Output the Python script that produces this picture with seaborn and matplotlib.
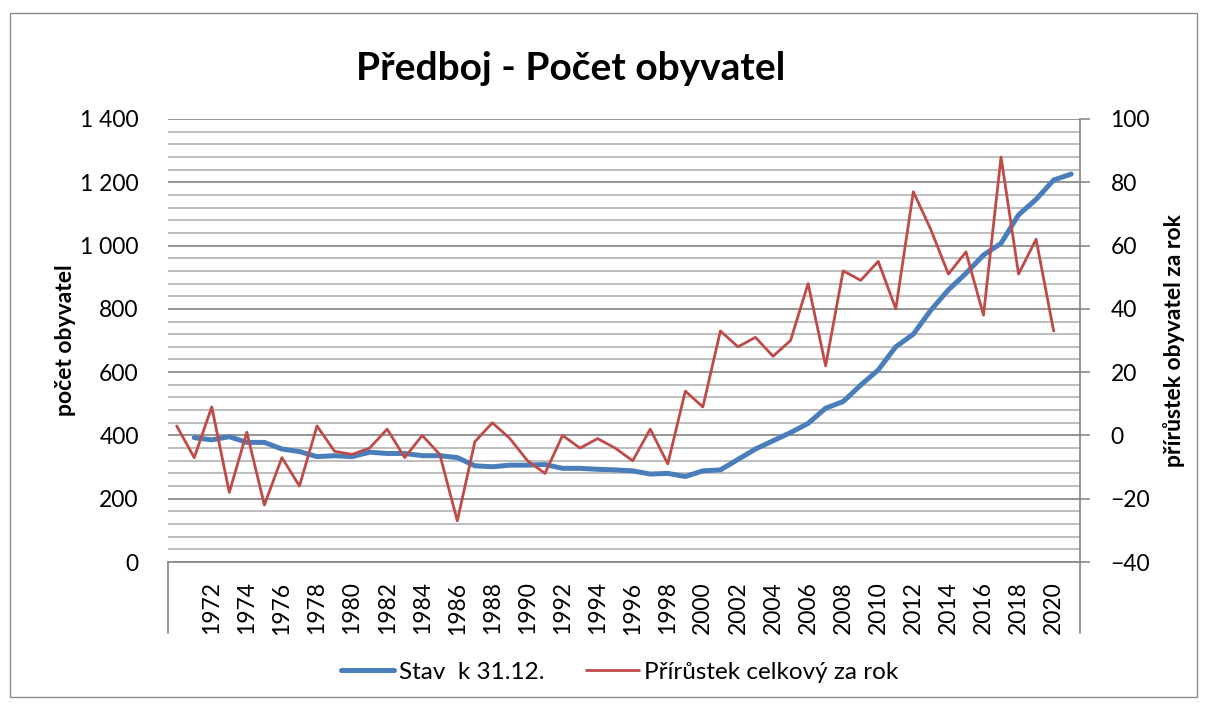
import numpy as np
import pandas as pd
import matplotlib
matplotlib.use("Agg")
import matplotlib.pyplot as plt
import seaborn as sns
from matplotlib.patches import Rectangle
from matplotlib.lines import Line2D

# data
stav_years = list(range(1971, 2022))
stav = [393, 386, 396, 378, 378, 357, 349, 333, 336, 333,
        347, 343, 343, 336, 336, 330, 304, 301, 306, 306,
        308, 296, 296, 293, 291, 288, 278, 280, 270, 288,
        291, 324, 357, 383, 409, 438, 486, 507, 559, 607,
        680, 720, 796, 860, 912, 970, 1007, 1097, 1146, 1207,
        1226]

prir_years = list(range(1970, 2021))
prir = [3, -7, 9, -18, 1, -22, -7, -16, 3, -5,
        -6, -4, 2, -7, 0, -6, -27, -2, 4, -1,
        -8, -12, 0, -4, -1, -4, -8, 2, -9, 14,
        9, 33, 28, 31, 25, 30, 48, 22, 52, 49,
        55, 40, 77, 65, 51, 58, 38, 88, 51, 62,
        33]

year_ticks = list(range(1972, 2021, 2))
left_ticks = [0, 200, 400, 600, 800, 1000, 1200, 1400]
left_labels = ['0', '200', '400', '600', '800', '1 000', '1 200', '1 400']
right_ticks = [-40, -20, 0, 20, 40, 60, 80, 100]

df_stav = pd.DataFrame({'rok': stav_years, 'hodnota': stav})
df_prir = pd.DataFrame({'rok': prir_years, 'hodnota': prir})

sns.set_style('white')
plt.rcParams['font.family'] = ['Lato', 'DejaVu Sans']
plt.rcParams['text.color'] = 'black'
plt.rcParams['axes.labelcolor'] = 'black'
plt.rcParams['xtick.labelcolor'] = 'black'
plt.rcParams['ytick.labelcolor'] = 'black'

blue = '#4A7EBB'
red = '#BE4B48'
grid_major = '#8C8C8C'
grid_minor = '#B9B9B9'

fig = plt.figure(figsize=(12.08, 7.04), dpi=100)
ax = fig.add_axes([0.139, 0.2017, 0.755, 0.6293])
ax2 = ax.twinx()

# rámeček kolem celého grafu
fig.patches.append(Rectangle((10 / 1208, 7 / 704), 1187 / 1208, 684 / 704,
                             transform=fig.transFigure, fill=False,
                             edgecolor='#8A8A8A', linewidth=1.0))

sns.lineplot(data=df_stav, x='rok', y='hodnota', ax=ax, color=blue,
             linewidth=3.6, legend=False, zorder=3)
sns.lineplot(data=df_prir, x='rok', y='hodnota', ax=ax2, color=red,
             linewidth=2.0, legend=False, zorder=3)

ax.set_xlim(1969.5, 2021.5)
ax.set_ylim(0, 1400)
ax2.set_ylim(-40, 100)

# mřížka: hlavní po 200, vedlejší po 40
ax.set_yticks(left_ticks, left_labels)
ax.set_yticks(np.arange(0, 1401, 40), minor=True)
ax.grid(axis='y', which='minor', color=grid_minor, linewidth=1.3)
ax.grid(axis='y', which='major', color=grid_major, linewidth=1.3)
ax.set_axisbelow(True)
ax.tick_params(axis='y', which='both', length=0, pad=21, labelsize=16.5)

ax.set_xticks(year_ticks, [str(y) for y in year_ticks], rotation=90)
ax.tick_params(axis='x', length=0, pad=14, labelsize=16.5)

ax2.set_yticks(right_ticks)
ax2.tick_params(axis='y', length=7, width=1.2, color=grid_major, pad=15, labelsize=16.5)

for a in (ax, ax2):
    for s in ('top', 'left', 'right', 'bottom'):
        a.spines[s].set_visible(False)
ax2.spines['right'].set_visible(True)
ax2.spines['right'].set_color(grid_major)
ax2.spines['right'].set_linewidth(1.3)
ax.spines['bottom'].set_visible(True)
ax.spines['bottom'].set_color(grid_major)
ax.spines['bottom'].set_linewidth(1.3)

# svislé čáry rámečku kategorií pod osou
box_h = (633 - 562) / 443
for xa in (0, 1):
    ax.plot([xa, xa], [0, -box_h], transform=ax.transAxes, color=grid_major,
            linewidth=1.3, clip_on=False)

ax.set_xlabel('')
ax.set_ylabel('počet obyvatel', fontsize=16.5, fontweight='bold', labelpad=3)
ax2.set_ylabel('přírůstek obyvatel za rok', fontsize=16.5, fontweight='bold', labelpad=9)

fig.text(0.472, 0.903, 'Předboj - Počet obyvatel', ha='center', va='center',
         fontsize=28, fontweight='bold')

handles = [Line2D([], [], color=blue, linewidth=3.6),
           Line2D([], [], color=red, linewidth=2.0)]
fig.legend(handles, ['Stav  k 31.12.', 'Přírůstek celkový za rok'],
           loc='center', bbox_to_anchor=(0.513, 0.045), ncol=2, frameon=False,
           fontsize=17.5, handlelength=2.2, handletextpad=0.2, columnspacing=1.7)

fig.savefig('out.png', dpi=100, facecolor='white')
